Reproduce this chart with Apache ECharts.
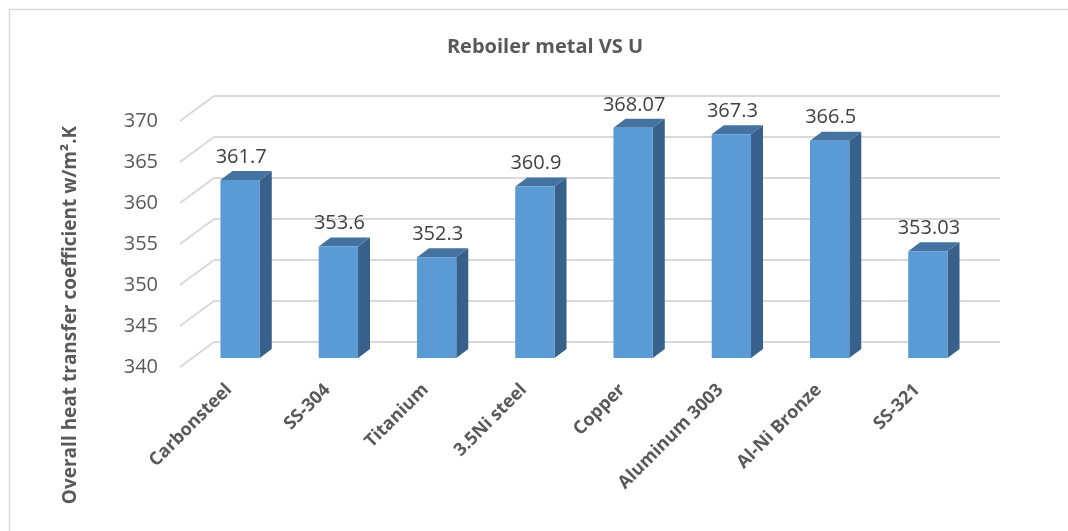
<!DOCTYPE html>
<html>
<head>
<meta charset="utf-8">
<script src="https://cdn.jsdelivr.net/npm/echarts@6/dist/echarts.min.js"></script>
<style>html,body{margin:0;padding:0;background:#fff;}#c{width:1068px;height:531px;}</style>
</head>
<body>
<div id="c"></div>
<script>
const categories = ['Carbonsteel', 'SS-304', 'Titanium', '3.5Ni steel', 'Copper', 'Aluminum 3003', 'Al-Ni Bronze', 'SS-321'];
const values = [361.7, 353.6, 352.3, 360.9, 368.07, 367.3, 366.5, 353.03];
const yTicks = [340, 345, 350, 355, 360, 365, 370];
const yMin = 340, yMax = 370, yStep = 5;
const chartTitle = 'Reboiler metal VS U';
const yTitle = 'Overall heat transfer coefficient w/m\u00B2.K';

const FONT = '"Open Sans", "Noto Sans", sans-serif';
const FRONT = '#5b9bd5', TOPC = '#4473a1', SIDE = '#37618b';
const GRID_C = '#d9d9d9';
// perspective offsets (pixels)
const WALL_DX = -34, WALL_DY = 25;   // back wall -> front plane
const BAR_OX = -23, BAR_OY = 16;     // back wall -> bar front face
const DEPTH_DX = 12, DEPTH_DY = -9;  // bar depth

const chart = echarts.init(document.getElementById('c'), null, {renderer: 'canvas'});
chart.setOption({
  animation: false,
  backgroundColor: '#fff',
  title: {
    text: chartTitle, left: 540, top: 32, textAlign: 'center',
    textStyle: {fontFamily: FONT, fontSize: 20, fontWeight: 'bold', color: '#595959'}
  },
  graphic: [
    {type: 'rect', left: 7, top: 7, shape: {width: 1100, height: 600},
     style: {fill: 'none', stroke: GRID_C, lineWidth: 1.5}, silent: true},
    {type: 'text', x: 71, y: 315, rotation: Math.PI / 2,
     style: {text: yTitle, fill: '#595959', font: 'bold 19px ' + FONT, align: 'center', verticalAlign: 'middle'}}
  ],
  grid: [
    {left: 214, top: 96, width: 786, height: 246},
    {left: 180, top: 121, width: 786, height: 246}
  ],
  xAxis: [
    {type: 'category', gridIndex: 0, data: categories, show: false},
    {type: 'category', gridIndex: 1, data: categories,
     axisLine: {show: false}, axisTick: {show: false},
     axisLabel: {rotate: 45, margin: 20, interval: 0, color: '#595959', fontFamily: FONT, fontSize: 18, fontWeight: 'bold'}}
  ],
  yAxis: [
    {type: 'value', gridIndex: 0, min: yMin, max: yMax, interval: yStep,
     axisLabel: {show: false}, axisLine: {show: false}, axisTick: {show: false},
     splitLine: {show: true, lineStyle: {color: GRID_C, width: 2}}},
    {type: 'value', gridIndex: 1, min: yMin, max: yMax, interval: yStep,
     axisLine: {show: false}, axisTick: {show: false}, splitLine: {show: false},
     axisLabel: {margin: 22, color: '#595959', fontFamily: FONT, fontSize: 20}}
  ],
  series: [
    {
      type: 'custom', xAxisIndex: 0, yAxisIndex: 0, silent: true, z: 1,
      data: yTicks.map(v => [0, v]),
      renderItem: function (params, api) {
        const p = api.coord([0, api.value(1)]);
        const x = params.coordSys.x;
        return {type: 'line', shape: {x1: x, y1: p[1], x2: x + WALL_DX, y2: p[1] + WALL_DY},
                style: {stroke: GRID_C, lineWidth: 2}};
      }
    },
    {
      type: 'custom', xAxisIndex: 0, yAxisIndex: 0, silent: true, z: 5,
      data: values.map((v, i) => [i, v]),
      renderItem: function (params, api) {
        const v = api.value(1);
        const top = api.coord([api.value(0), v]);
        const base = api.coord([api.value(0), yMin]);
        const w = api.size([1, 0])[0] * 0.4;
        const x0 = top[0] - w / 2 + BAR_OX, x1 = top[0] + w / 2 + BAR_OX;
        const yt = top[1] + BAR_OY, yb = base[1] + BAR_OY;
        return {type: 'group', children: [
          {type: 'polygon', shape: {points: [[x1, yt], [x1 + DEPTH_DX, yt + DEPTH_DY], [x1 + DEPTH_DX, yb + DEPTH_DY], [x1, yb]]}, style: {fill: SIDE}},
          {type: 'polygon', shape: {points: [[x0, yt], [x0 + DEPTH_DX, yt + DEPTH_DY], [x1 + DEPTH_DX, yt + DEPTH_DY], [x1, yt]]}, style: {fill: TOPC}},
          {type: 'rect', shape: {x: x0, y: yt, width: x1 - x0, height: yb - yt}, style: {fill: FRONT}},
          {type: 'text', style: {text: String(v), x: (x0 + x1) / 2 + 1, y: yt - 13, align: 'center', verticalAlign: 'bottom',
            fill: '#404040', font: '20px ' + FONT}}
        ]};
      }
    }
  ]
});
</script>
</body>
</html>
